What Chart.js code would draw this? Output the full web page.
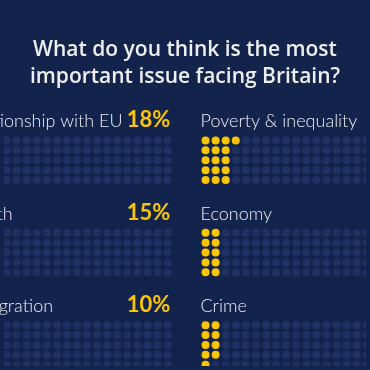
<!DOCTYPE html>
<html>
<head>
<meta charset="utf-8">
<script src="https://cdn.jsdelivr.net/npm/chart.js@4.4.1/dist/chart.umd.min.js"></script>
<style>
  html, body { margin: 0; padding: 0; background: #13244c; }
  canvas { display: block; }
</style>
</head>
<body>
<canvas id="myChart" width="370" height="370"></canvas>
<script>
const titleLines = ["What do you think is the most", "important issue facing Britain?"];
const leftLabels = ["Relationship with EU", "Health", "Immigration"];
const leftValues = [18, 15, 10];
const rightLabels = ["Poverty & inequality", "Economy", "Crime"];
const rightValues = [16, 10, 9];

const cols = 21, rows = 5;
// layout (pixels per grid unit)
const colPx = 10.3, rowPx = 10.1, panelRows = 94.4 / 10.1;
const xMin = 38.7 / colPx, yMin = -139.5 / rowPx;
const rightStart = (206 + 38.7) / colPx;

const navy = "#13244c", dim = "#1e3162", yellow = "#fcc500", white = "#eef0f4";

const panels = [];
leftLabels.forEach((l, i) => panels.push({ label: l, value: leftValues[i], x0: 0, y0: i * panelRows, pad: 2.5 }));
rightLabels.forEach((l, i) => panels.push({ label: l, value: rightValues[i], x0: rightStart, y0: i * panelRows, pad: 6 }));

const onDots = [], offDots = [];
panels.forEach(p => {
  for (let c = 0; c < cols; c++) {
    for (let r = 0; r < rows; r++) {
      const pt = { x: p.x0 + c, y: p.y0 + r };
      if (c * rows + r < p.value) onDots.push(pt); else offDots.push(pt);
    }
  }
});

const textPlugin = {
  id: "texts",
  beforeDraw(chart) {
    const c = chart.ctx;
    c.save();
    c.fillStyle = navy;
    c.fillRect(0, 0, chart.width, chart.height);
    c.restore();
  },
  afterDraw(chart) {
    const c = chart.ctx, xs = chart.scales.x, ys = chart.scales.y;
    c.save();
    c.fillStyle = white;
    c.textAlign = "center";
    c.textBaseline = "alphabetic";
    c.font = '600 21px "Open Sans"';
    c.fillText(titleLines[0], chart.width / 2, 56);
    c.fillText(titleLines[1], chart.width / 2, 83);

    panels.forEach(p => {
      const left = xs.getPixelForValue(p.x0) - 5;
      const right = xs.getPixelForValue(p.x0 + cols - 1) + p.pad;
      const base = ys.getPixelForValue(p.y0) - 13;
      c.textAlign = "left";
      c.fillStyle = white;
      c.font = '300 18px Lato';
      c.fillText(p.label, left, base);
      c.textAlign = "right";
      c.fillStyle = yellow;
      c.font = 'bold 22px Lato';
      c.fillText(p.value + "%", right, base);
    });
    c.restore();
  }
};

const ctx = document.getElementById("myChart").getContext("2d");
const myChart = new Chart(ctx, {
  type: "scatter",
  data: {
    datasets: [
      { label: "off", data: offDots, backgroundColor: dim, pointRadius: 4, borderWidth: 0 },
      { label: "on", data: onDots, backgroundColor: yellow, pointRadius: 4, borderWidth: 0 },
    ],
  },
  options: {
    responsive: false,
    animation: false,
    layout: { padding: 0 },
    scales: {
      x: { type: "linear", display: false, min: xMin, max: xMin + 370 / colPx },
      y: { type: "linear", display: false, reverse: true, min: yMin, max: yMin + 370 / rowPx },
    },
    plugins: { legend: { display: false }, tooltip: { enabled: false } },
  },
  plugins: [textPlugin],
});
</script>
</body>
</html>
